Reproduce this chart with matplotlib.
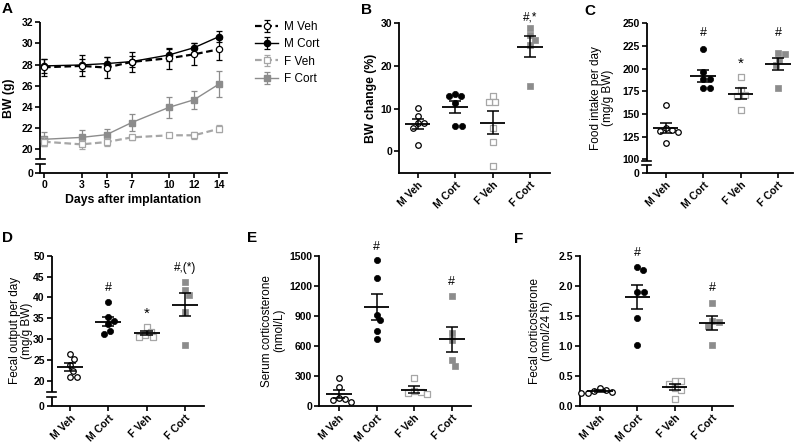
import numpy as np
import matplotlib
matplotlib.use("Agg")
import matplotlib.pyplot as plt

plt.rcParams['font.family'] = ['Liberation Sans', 'DejaVu Sans']

# ---------------- data ----------------
groups = ["M Veh", "M Cort", "F Veh", "F Cort"]

days = [0, 3, 5, 7, 10, 12, 14]
bw_m_veh = [27.74, 27.87, 27.71, 28.25, 28.60, 28.97, 29.45]
bw_m_veh_sem = [0.80, 1.00, 1.00, 0.95, 1.00, 1.05, 1.00]
bw_m_cort = [27.87, 27.96, 28.09, 28.28, 28.91, 29.60, 30.65]
bw_m_cort_sem = [0.70, 0.60, 0.60, 0.50, 0.60, 0.45, 0.50]
bw_f_veh = [20.69, 20.44, 20.66, 21.10, 21.30, 21.30, 21.92]
bw_f_veh_sem = [0.45, 0.40, 0.35, 0.20, 0.20, 0.35, 0.35]
bw_f_cort = [20.92, 21.10, 21.36, 22.50, 23.95, 24.67, 26.16]
bw_f_cort_sem = [0.66, 0.67, 0.55, 0.80, 0.98, 0.86, 1.26]

bwchange_m_veh = [10.1, 8.2, 6.6, 6.6, 5.5, 1.5]
bwchange_m_cort = [13.4, 13.0, 13.0, 11.3, 5.9, 5.9]
bwchange_f_veh = [12.9, 11.5, 11.5, 5.5, 2.3, -3.5]
bwchange_f_cort = [29.0, 27.3, 26.2, 24.8, 15.4]

food_m_veh = [160, 134, 132, 131, 130, 118]
food_m_cort = [221.7, 196, 188.6, 188.6, 178.3, 178.3]
food_f_veh = [191, 176, 171, 170, 154]
food_f_cort = [217, 216, 210, 204, 179]

fecal_m_veh = [26.5, 25.3, 23.8, 22.4, 20.8, 20.8]
fecal_m_cort = [38.8, 35.2, 34.3, 33.5, 32.0, 31.1]
fecal_f_veh = [33.0, 31.8, 31.0, 30.6, 30.4]
fecal_f_cort = [43.8, 41.8, 40.6, 36.4, 28.6]

serum_m_veh = [280, 190, 75, 70, 55, 40]
serum_m_cort = [1457, 1280, 907, 853, 743, 667]
serum_f_veh = [280, 150, 140, 125, 115]
serum_f_cort = [1093, 723, 657, 453, 397]

fcort_m_veh = [0.30, 0.27, 0.25, 0.23, 0.22, 0.22]
fcort_m_cort = [2.32, 2.26, 1.89, 1.89, 1.47, 1.01]
fcort_f_veh = [0.42, 0.41, 0.36, 0.30, 0.26, 0.12]
fcort_f_cort = [1.72, 1.41, 1.40, 1.33, 1.02]

# ---------------- style ----------------
W, H = 799, 445
fig = plt.figure(figsize=(W / 100, H / 100), dpi=100)

GRAY = "#8c8c8c"
LGRAY = "#a6a6a6"
TICKFS = 7.5
SPINE_LW = 1.3

def add_ax(l, r, t, b):
    return fig.add_axes([l / W, 1 - b / H, (r - l) / W, (b - t) / H])

def style(ax):
    for s in ("top", "right"):
        ax.spines[s].set_visible(False)
    for s in ("left", "bottom"):
        ax.spines[s].set_linewidth(SPINE_LW)
    ax.tick_params(direction="out", length=3.5, width=1.2, labelsize=TICKFS, pad=1.5)
    for lab in ax.get_xticklabels() + ax.get_yticklabels():
        lab.set_fontweight("bold")

def broken_left(ax, ymin, b1, b2, ymax, half_px=4.5):
    ax.spines["left"].set_visible(False)
    tr = ax.get_yaxis_transform()
    wpx = ax.get_position().width * W
    hw = half_px / wpx
    ax.plot([0, 0], [ymin, b1], transform=tr, color="k", lw=SPINE_LW, clip_on=False,
            solid_capstyle="butt")
    ax.plot([0, 0], [b2, ymax], transform=tr, color="k", lw=SPINE_LW, clip_on=False,
            solid_capstyle="butt")
    for b in (b1, b2):
        ax.plot([-hw, hw], [b, b], transform=tr, color="k", lw=1.2, clip_on=False)

def swarm_offsets(ax, vals, diam_px=6.4, step=0.25):
    pos = ax.get_position()
    x0, x1 = ax.get_xlim()
    y0, y1 = ax.get_ylim()
    pxx = pos.width * W / (x1 - x0)
    pxy = pos.height * H / (y1 - y0)
    order = np.argsort(-np.asarray(vals))
    placed = []
    offs = np.zeros(len(vals))
    for i in order:
        y = vals[i] * pxy
        k = 0
        while True:
            found = None
            for cand in ([0.0] if k == 0 else [k * step, -k * step]):
                if all((cand - px) ** 2 + (y - py) ** 2 >= diam_px ** 2 for px, py in placed):
                    found = cand
                    break
            if found is not None:
                placed.append((found, y))
                offs[i] = found / pxx
                break
            k += 1
    return offs

markers = [
    dict(marker="o", facecolor="white", edgecolor="black", s=16, linewidths=0.9),
    dict(marker="o", facecolor="black", edgecolor="black", s=20, linewidths=0.5),
    dict(marker="s", facecolor="white", edgecolor=LGRAY, s=14, linewidths=0.9),
    dict(marker="s", facecolor=GRAY, edgecolor=GRAY, s=15, linewidths=0.5),
]

def dot_panel(ax, data_sets):
    for i, vals in enumerate(data_sets):
        vals = np.asarray(vals, dtype=float)
        offs = swarm_offsets(ax, vals)
        ax.scatter(i + offs, vals, zorder=3, clip_on=False, **markers[i])
        m = vals.mean()
        se = vals.std(ddof=1) / np.sqrt(len(vals))
        ax.hlines(m, i - 0.34, i + 0.34, color="black", lw=1.3, zorder=4)
        ax.vlines(i, m - se, m + se, color="black", lw=1.1, zorder=4)
        ax.hlines([m - se, m + se], i - 0.16, i + 0.16, color="black", lw=1.1, zorder=4)

def cat_axis(ax, xl, xr):
    ax.set_xlim(xl, xr)
    ax.set_xticks(range(len(groups)))
    ax.set_xticklabels(groups, rotation=45, ha="right", rotation_mode="anchor",
                       fontsize=TICKFS, fontweight="bold")

def ylabel(ax, text, right_px, bold=False, fs=8.5):
    ax.set_ylabel(text, fontsize=fs, fontweight="bold" if bold else "normal", linespacing=1.0)
    pos = ax.get_position()
    ax.yaxis.set_label_coords((right_px / W - pos.x0) / pos.width, 0.5)

# ---------------- Panel A ----------------
axA = add_ax(40, 226.7, 22.3, 173.3)
axA.set_xlim(-0.32, 14.6)
axA.set_ylim(17.7, 32)
axA.errorbar(days, bw_m_veh, yerr=bw_m_veh_sem, color="black", lw=1.6, ls=(0, (3, 1.6)),
             marker="o", mfc="white", mec="black", ms=4.5, mew=0.9, capsize=2.3,
             elinewidth=0.9, capthick=0.9, label="M Veh", zorder=4, clip_on=False)
axA.errorbar(days, bw_m_cort, yerr=bw_m_cort_sem, color="black", lw=1.0,
             marker="o", mfc="black", mec="black", ms=4.5, capsize=2.3,
             elinewidth=0.9, capthick=0.9, label="M Cort", zorder=3, clip_on=False)
axA.errorbar(days, bw_f_veh, yerr=bw_f_veh_sem, color=LGRAY, lw=1.6, ls=(0, (3, 1.6)),
             marker="s", mfc="white", mec=LGRAY, ms=4.2, mew=0.9, capsize=2.3,
             elinewidth=0.9, capthick=0.9, label="F Veh", zorder=4, clip_on=False)
axA.errorbar(days, bw_f_cort, yerr=bw_f_cort_sem, color=GRAY, lw=1.0,
             marker="s", mfc=GRAY, mec=GRAY, ms=4.2, capsize=2.3,
             elinewidth=0.9, capthick=0.9, label="F Cort", zorder=3, clip_on=False)
axA.set_xticks(days)
axA.set_yticks([17.7, 20, 22, 24, 26, 28, 30, 32])
axA.set_yticklabels(["0", "20", "22", "24", "26", "28", "30", "32"])
style(axA)
broken_left(axA, 17.7, 18.58, 19.02, 32)
ylabel(axA, "BW (g)", 15, bold=True, fs=8.8)
axA.set_xlabel("Days after implantation", fontsize=8.8, fontweight="bold", labelpad=3)
axA.legend(loc="upper left", bbox_to_anchor=((250 - 40) / 186.7, 1.04), frameon=False,
           fontsize=8.5, handlelength=2.0, handletextpad=0.5, labelspacing=0.45,
           borderaxespad=0)

# ---------------- Panel B ----------------
axB = add_ax(399.3, 550, 23.3, 172.7)
axB.set_ylim(-5, 30)
axB.set_yticks([0, 10, 20, 30])
style(axB)
cat_axis(axB, -0.49, 3.53)
dot_panel(axB, [bwchange_m_veh, bwchange_m_cort, bwchange_f_veh, bwchange_f_cort])
ylabel(axB, "BW change (%)", 377, bold=True, fs=8.8)
axB.text(3, 31.4, "#,*", ha="center", va="center", fontsize=8.5)

# ---------------- Panel C ----------------
axC = add_ax(646.7, 792.7, 23.3, 173.3)
axC.set_ylim(84.6, 250)
axC.set_yticks([84.6, 100, 125, 150, 175, 200, 225, 250])
axC.set_yticklabels(["0", "100", "125", "150", "175", "200", "225", "250"])
style(axC)
cat_axis(axC, -0.507, 3.39)
broken_left(axC, 84.6, 93.8, 98.2, 250)
dot_panel(axC, [food_m_veh, food_m_cort, food_f_veh, food_f_cort])
ylabel(axC, "Food intake per day\n(mg/g BW)", 614)
axC.text(1, 239, "#", ha="center", va="center", fontsize=9)
axC.text(2, 205, "*", ha="center", va="center", fontsize=11)
axC.text(3, 239, "#", ha="center", va="center", fontsize=9)

# ---------------- Panel D ----------------
axD = add_ax(51.7, 204, 255.7, 405.7)
axD.set_ylim(14, 50)
axD.set_yticks([14, 20, 25, 30, 35, 40, 45, 50])
axD.set_yticklabels(["0", "20", "25", "30", "35", "40", "45", "50"])
style(axD)
cat_axis(axD, -0.48, 3.50)
broken_left(axD, 14, 16.2, 17.4, 50)
dot_panel(axD, [fecal_m_veh, fecal_m_cort, fecal_f_veh, fecal_f_cort])
ylabel(axD, "Fecal output per day\n(mg/g BW)", 33)
axD.text(1, 42.2, "#", ha="center", va="center", fontsize=9)
axD.text(2, 36.0, "*", ha="center", va="center", fontsize=11)
axD.text(3, 47.0, "#,(*)", ha="center", va="center", fontsize=8.5)

# ---------------- Panel E ----------------
axE = add_ax(319.3, 470.7, 255.7, 405.7)
axE.set_ylim(0, 1500)
axE.set_yticks([0, 300, 600, 900, 1200, 1500])
style(axE)
cat_axis(axE, -0.52, 3.50)
dot_panel(axE, [serum_m_veh, serum_m_cort, serum_f_veh, serum_f_cort])
ylabel(axE, "Serum corticosterone\n(nmol/L)", 285)
axE.text(1, 1590, "#", ha="center", va="center", fontsize=9)
axE.text(3, 1240, "#", ha="center", va="center", fontsize=9)

# ---------------- Panel F ----------------
axF = add_ax(580, 732.7, 255.7, 405.7)
axF.set_ylim(0, 2.5)
axF.set_yticks([0, 0.5, 1.0, 1.5, 2.0, 2.5])
axF.set_yticklabels(["0.0", "0.5", "1.0", "1.5", "2.0", "2.5"])
style(axF)
cat_axis(axF, -0.53, 3.55)
dot_panel(axF, [fcort_m_veh, fcort_m_cort, fcort_f_veh, fcort_f_cort])
ylabel(axF, "Fecal corticosterone\n(nmol/24 h)", 553)
axF.text(1, 2.54, "#", ha="center", va="center", fontsize=9)
axF.text(3, 1.96, "#", ha="center", va="center", fontsize=9)

# ---------------- panel letters ----------------
for letter, x, y in [("A", 2, 2), ("B", 361, 3), ("C", 584, 4),
                     ("D", 2, 231), ("E", 247, 231), ("F", 514, 232)]:
    fig.text(x / W, 1 - y / H, letter, fontsize=11, fontweight="bold", ha="left", va="top")

fig.savefig("out.png", dpi=100)
